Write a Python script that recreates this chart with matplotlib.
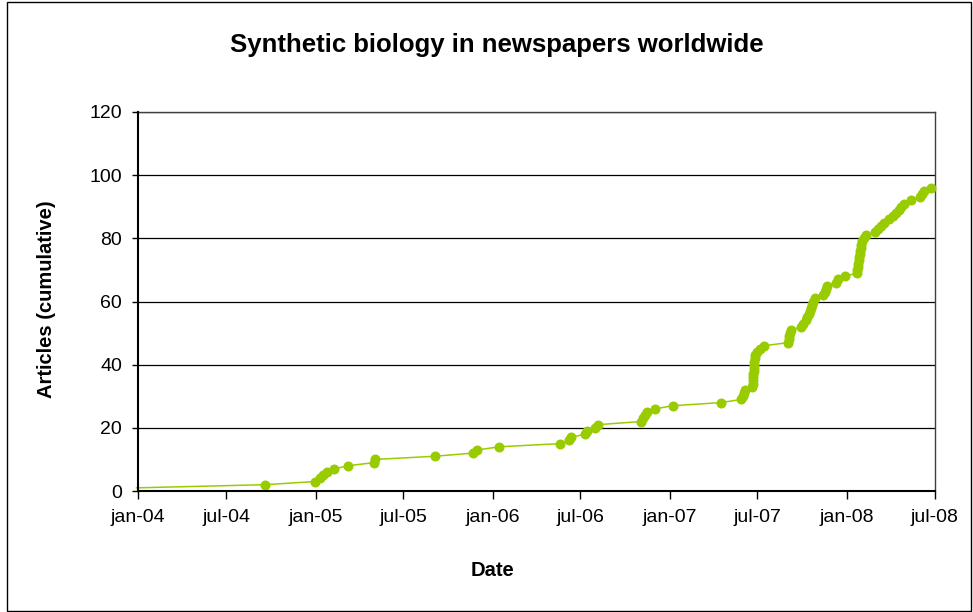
import matplotlib
matplotlib.use("Agg")
from matplotlib import pyplot as plt
from matplotlib.patches import Rectangle
import numpy as np

# article publication dates and the running count
article_dates = [
    "2003-12-29", "2004-09-19", "2004-12-31", "2005-01-11", "2005-01-17",
    "2005-01-25", "2005-02-09", "2005-03-09", "2005-05-02", "2005-05-04",
    "2005-09-04", "2005-11-21", "2005-11-30", "2006-01-15", "2006-05-20",
    "2006-06-08", "2006-06-12", "2006-07-11", "2006-07-15", "2006-07-31",
    "2006-08-06", "2006-11-03", "2006-11-07", "2006-11-11", "2006-11-16",
    "2006-12-02", "2007-01-07", "2007-04-17", "2007-05-29", "2007-06-02",
    "2007-06-04", "2007-06-06", "2007-06-20", "2007-06-21", "2007-06-21",
    "2007-06-22", "2007-06-22", "2007-06-23", "2007-06-23", "2007-06-24",
    "2007-06-24", "2007-06-25", "2007-06-26", "2007-07-01", "2007-07-07",
    "2007-07-15", "2007-09-03", "2007-09-04", "2007-09-05", "2007-09-06",
    "2007-09-09", "2007-09-29", "2007-10-03", "2007-10-10", "2007-10-12",
    "2007-10-16", "2007-10-18", "2007-10-20", "2007-10-22", "2007-10-24",
    "2007-10-28", "2007-11-14", "2007-11-18", "2007-11-20", "2007-11-22",
    "2007-12-11", "2007-12-15", "2007-12-29", "2008-01-22", "2008-01-23",
    "2008-01-24", "2008-01-25", "2008-01-26", "2008-01-27", "2008-01-28",
    "2008-01-29", "2008-01-30", "2008-01-31", "2008-02-01", "2008-02-05",
    "2008-02-10", "2008-02-28", "2008-03-05", "2008-03-11", "2008-03-18",
    "2008-03-28", "2008-04-05", "2008-04-11", "2008-04-17", "2008-04-22",
    "2008-04-28", "2008-05-13", "2008-05-31", "2008-06-04", "2008-06-08",
    "2008-06-22",
]
article_counts = [
    1, 2, 3, 4, 5, 6, 7, 8, 9, 10,
    11, 12, 13, 14, 15, 16, 17, 18, 19, 20,
    21, 22, 23, 24, 25, 26, 27, 28, 29, 30,
    31, 32, 33, 34, 35, 36, 37, 38, 39, 40,
    41, 42, 43, 44, 45, 46, 47, 48, 49, 50,
    51, 52, 53, 54, 55, 56, 57, 58, 59, 60,
    61, 62, 63, 64, 65, 66, 67, 68, 69, 70,
    71, 72, 73, 74, 75, 76, 77, 78, 79, 80,
    81, 82, 83, 84, 85, 86, 87, 88, 89, 90,
    91, 92, 93, 94, 95, 96,
]

tick_dates = ["2004-01-01", "2004-07-01", "2005-01-01", "2005-07-01", "2006-01-01",
              "2006-07-01", "2007-01-01", "2007-07-01", "2008-01-01", "2008-07-01"]
tick_labels = ["jan-04", "jul-04", "jan-05", "jul-05", "jan-06",
               "jul-06", "jan-07", "jul-07", "jan-08", "jul-08"]
y_ticks = [0, 20, 40, 60, 80, 100, 120]

plt.rcParams["font.family"] = ["Liberation Sans", "DejaVu Sans"]

x = np.array(article_dates, dtype="datetime64[D]")
xt = np.array(tick_dates, dtype="datetime64[D]")

fig = plt.figure(figsize=(9.73, 6.12), dpi=100)
ax = fig.add_axes([0.1418, 0.1977, 0.8191, 0.6193])

# first point sits just left of the axis: line only, no marker
ax.plot(x, article_counts, "-o", color="#99CC00", lw=1.1, ms=7.2,
        markeredgewidth=0, zorder=3, clip_on=False,
        markevery=list(range(1, len(article_counts))))

ax.set_xlim(xt[0], xt[-1])
ax.set_ylim(0, 120)
ax.set_xticks(xt)
ax.set_xticklabels(tick_labels)
ax.set_yticks(y_ticks)
ax.tick_params(labelsize=14, width=1, direction="out")
ax.tick_params(axis="x", length=6, pad=7)
ax.tick_params(axis="y", length=4.5, pad=7)

ax.grid(axis="y", color="black", lw=0.9)
ax.set_axisbelow(True)
for side in ["left", "bottom"]:
    ax.spines[side].set_color("black")
    ax.spines[side].set_linewidth(1.5)
    ax.spines[side].set_zorder(4)
for side in ["top", "right"]:
    ax.spines[side].set_color("#404040")
    ax.spines[side].set_linewidth(1)

fig.text(497 / 973, 1 - 52 / 612, "Synthetic biology in newspapers worldwide",
         fontsize=18.5, fontweight="bold", ha="center", va="baseline")
fig.text(492 / 973, 1 - 571 / 612, "Date", fontsize=14.5, fontweight="bold",
         ha="center", va="center")
fig.text(47 / 973, 1 - 299 / 612, "Articles (cumulative)", fontsize=14.5,
         fontweight="bold", rotation=90, ha="center", va="center")

# thin frame around the whole chart
fig.patches.append(Rectangle((7 / 973, 1 / 612), 964 / 973, 609 / 612,
                             transform=fig.transFigure, fill=False,
                             edgecolor="black", lw=1))

fig.savefig("out.png", dpi=100)
print("Done")
